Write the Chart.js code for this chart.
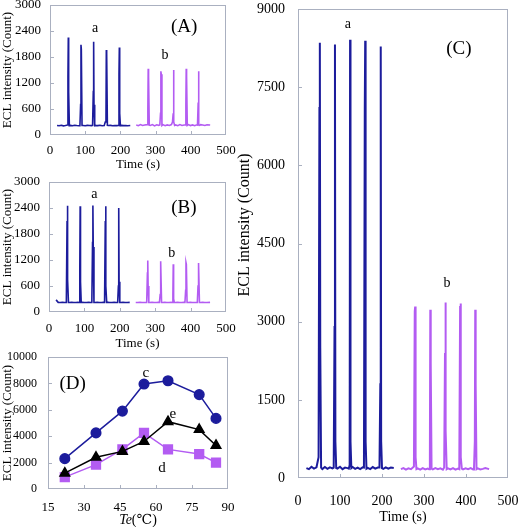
<!DOCTYPE html>
<html>
<head>
<meta charset="utf-8">
<script src="https://cdn.jsdelivr.net/npm/chart.js@4.4.1/dist/chart.umd.min.js"></script>
<style>
  html, body { margin: 0; padding: 0; background: #fff; }
  #wrap { position: relative; width: 520px; height: 527px; overflow: hidden; }
  canvas { position: absolute; }
</style>
</head>
<body>
<div id="wrap">
  <canvas id="chartA" width="240" height="172" style="left:0;top:0"></canvas>
  <canvas id="chartB" width="240" height="181" style="left:0;top:170px"></canvas>
  <canvas id="chartD" width="240" height="187" style="left:0;top:340px"></canvas>
  <canvas id="chartC" width="290" height="527" style="left:230px;top:0"></canvas>
</div>
<script>
// time axis (s) for trace a and trace b, shared by panels A, B, C
const timeA = [20, 26, 32, 38, 44, 49, 51, 52, 53, 55, 58, 64, 70, 76, 82, 85, 87, 88, 89, 91,
  94, 100, 106, 112, 118, 121, 123, 124, 125, 127, 130, 136, 142, 148, 154, 157, 159, 160, 161, 163,
  166, 172, 178, 184, 190, 194, 196, 197, 198, 200, 203, 209, 215, 221, 228];
const timeB = [245, 251, 257, 263, 269, 276, 278, 279, 280, 282, 285, 291, 297, 303, 309, 312, 314, 315, 316, 318,
  321, 327, 333, 339, 345, 348, 350, 351, 352, 354, 357, 363, 369, 375, 381, 384, 386, 387, 388, 390,
  393, 399, 405, 411, 417, 419, 421, 422, 423, 425, 428, 434, 440, 446, 455];

// panel A
const ecl1a = [220, 215, 225, 212, 220, 230, 1350, 2250, 1000, 215, 222, 214, 224, 218, 215, 215, 700, 2080, 1980, 220,
  220, 214, 222, 218, 216, 222, 1000, 2150, 700, 215, 220, 216, 224, 214, 220, 300, 320, 1960, 1880, 222,
  218, 222, 214, 220, 216, 220, 1400, 2020, 500, 215, 222, 216, 220, 214, 220];
const ecl1b = [230, 215, 240, 220, 232, 240, 600, 1530, 1350, 228, 220, 240, 210, 235, 222, 230, 500, 1470, 1400, 220,
  240, 215, 232, 220, 240, 300, 500, 1500, 300, 222, 232, 215, 240, 220, 230, 230, 700, 1530, 1350, 222,
  240, 218, 232, 214, 236, 230, 750, 1470, 230, 222, 240, 230, 220, 236, 230];

// panel B
const ecl2a = [280, 222, 220, 224, 220, 220, 2100, 2450, 750, 220, 220, 222, 220, 220, 222, 220, 1000, 2440, 700, 220,
  222, 220, 220, 222, 220, 220, 1600, 2460, 1500, 220, 220, 222, 220, 220, 222, 220, 2100, 2440, 600, 220,
  222, 220, 220, 222, 220, 220, 600, 2400, 700, 220, 220, 222, 220, 220, 222];
const ecl2b = [220, 220, 222, 220, 220, 220, 900, 1190, 600, 220, 220, 222, 220, 220, 222, 220, 400, 1170, 1150, 220,
  220, 222, 220, 220, 222, 220, 400, 1100, 300, 220, 220, 222, 220, 220, 222, 220, 500, 1140, 1100, 220,
  220, 222, 220, 220, 222, 220, 600, 1130, 1100, 220, 220, 222, 220, 220, 222];

// panel C
const ecl3a = [190, 170, 215, 180, 205, 400, 7100, 8350, 2500, 200, 170, 210, 175, 205, 185, 200, 2900, 8320, 700, 190,
  180, 215, 170, 200, 190, 180, 250, 8410, 700, 190, 210, 175, 200, 170, 205, 200, 7100, 8390, 700, 180,
  195, 170, 210, 180, 200, 200, 1800, 8280, 700, 190, 175, 205, 180, 200, 190];
const ecl3b = [170, 190, 160, 185, 170, 220, 3200, 3290, 400, 170, 185, 160, 190, 165, 180, 170, 400, 3230, 2200, 180,
  165, 190, 170, 185, 160, 200, 2400, 3370, 900, 170, 185, 165, 190, 160, 180, 170, 3300, 3350, 400, 180,
  165, 185, 170, 190, 165, 180, 700, 3230, 1800, 170, 185, 165, 175, 190, 170];

// panel D
const tempD = [22, 35, 46, 55, 65, 78, 85];
const eclC = [2300, 4250, 5900, 7950, 8200, 7150, 5350];
const eclD = [900, 1850, 3000, 4250, 3000, 2650, 2000];
const eclE = [1200, 2400, 2850, 3600, 5100, 4500, 3300];

const FONT = "'Liberation Serif', 'DejaVu Serif', serif";
const BLUE = '#1c1c9c';
const PURPLE = '#b35cf2';
const FRAME = '#aab0c0';

Chart.defaults.font.family = FONT;
Chart.defaults.color = '#000';

function pts(xs, ys) {
  return xs.map((x, i) => ({ x: x, y: ys[i] }));
}

function trace(xs, ys, color, w) {
  return { data: pts(xs, ys), borderColor: color, borderWidth: w, pointRadius: 0, fill: false, tension: 0 };
}

// box around plot area, small inward ticks, and free text
const frame = {
  id: 'frame',
  afterDraw(chart, args, opts) {
    const { ctx, chartArea: a, scales: { x, y } } = chart;
    ctx.save();
    ctx.strokeStyle = FRAME;
    ctx.lineWidth = 1;
    ctx.strokeRect(Math.round(a.left) + 0.5, Math.round(a.top) + 0.5,
      Math.round(a.right - a.left) - 1, Math.round(a.bottom - a.top) - 1);
    ctx.beginPath();
    x.ticks.forEach(t => {
      if (t.value <= x.min || t.value >= x.max) return;
      const px = Math.round(x.getPixelForValue(t.value)) + 0.5;
      ctx.moveTo(px, a.bottom); ctx.lineTo(px, a.bottom - 4);
    });
    y.ticks.forEach(t => {
      if (t.value <= y.min || t.value >= y.max) return;
      const py = Math.round(y.getPixelForValue(t.value)) + 0.5;
      ctx.moveTo(a.left, py); ctx.lineTo(a.left + 4, py);
    });
    ctx.stroke();

    ctx.fillStyle = '#000';
    ctx.textAlign = 'center';
    ctx.textBaseline = 'middle';
    (opts.notes || []).forEach(n => {
      ctx.font = n.size + 'px ' + FONT;
      ctx.fillText(n.text, x.getPixelForValue(n.x), y.getPixelForValue(n.y));
    });
    (opts.captions || []).forEach(c => {
      ctx.save();
      ctx.translate(c.px, c.py);
      if (c.rot) ctx.rotate(c.rot);
      let total = 0;
      c.parts.forEach(p => {
        ctx.font = (p.italic ? 'italic ' : '') + c.size + 'px ' + FONT;
        total += ctx.measureText(p.text).width;
      });
      let cx = -total / 2;
      ctx.textAlign = 'left';
      c.parts.forEach(p => {
        ctx.font = (p.italic ? 'italic ' : '') + c.size + 'px ' + FONT;
        ctx.fillText(p.text, cx, 0);
        cx += ctx.measureText(p.text).width;
      });
      ctx.restore();
    });
    ctx.restore();
  }
};

const plain = v => String(v);

function xAxis(min, max, step, o) {
  return {
    type: 'linear', min: min, max: max,
    grid: { display: false, drawTicks: false }, border: { display: false },
    ticks: { stepSize: step, padding: o.pad, font: { size: o.size }, autoSkip: false, maxRotation: 0, callback: plain },
    title: { display: !!o.title, text: o.title, font: { size: o.titleSize || o.size }, padding: { top: 0, bottom: o.titlePad || 0 } },
    afterFit: s => { s.height = o.h; s.paddingLeft = 0; s.paddingRight = 0; }
  };
}

function yAxis(min, max, step, o) {
  return {
    type: 'linear', min: min, max: max,
    grid: { display: false, drawTicks: false }, border: { display: false },
    ticks: { stepSize: step, padding: o.pad, font: { size: o.size }, callback: plain },
    title: { display: !!o.title, text: o.title, font: { size: o.titleSize || o.size }, padding: { top: o.titlePad || 0, bottom: 0 } },
    afterFit: s => { s.width = o.w; s.paddingTop = 0; s.paddingBottom = 0; }
  };
}

function options(pad, x, y, notes, captions) {
  return {
    responsive: false,
    animation: false,
    layout: { padding: pad },
    plugins: {
      legend: { display: false },
      tooltip: { enabled: false },
      frame: { notes: notes, captions: captions || [] }
    },
    scales: { x: x, y: y }
  };
}

// (A)
new Chart(document.getElementById('chartA'), {
  type: 'line',
  data: { datasets: [trace(timeA, ecl1a, BLUE, 1.6), trace(timeB, ecl1b, PURPLE, 1.6)] },
  options: options({ top: 5, right: 14, left: 0, bottom: 0 },
    xAxis(0, 500, 100, { h: 37, pad: 8, size: 13, title: 'Time (s)' }),
    yAxis(0, 3000, 600, { w: 50, pad: 9, size: 13, title: 'ECL intensity (Count)' }),
    [{ text: 'a', x: 128, y: 2470, size: 14 }, { text: '(A)', x: 381, y: 2490, size: 19 }, { text: 'b', x: 327, y: 1850, size: 14 }]),
  plugins: [frame]
});

// (B)
new Chart(document.getElementById('chartB'), {
  type: 'line',
  data: { datasets: [trace(timeA, ecl2a, BLUE, 1.6), trace(timeB, ecl2b, PURPLE, 1.6)] },
  options: options({ top: 12, right: 14, left: 0, bottom: 0 },
    xAxis(0, 500, 100, { h: 39, pad: 9, size: 13, title: 'Time (s)' }),
    yAxis(0, 3000, 600, { w: 49, pad: 9, size: 13, title: 'ECL intensity (Count)' }),
    [{ text: 'a', x: 128, y: 2720, size: 14 }, { text: '(B)', x: 381, y: 2400, size: 19 }, { text: 'b', x: 347, y: 1360, size: 14 }]),
  plugins: [frame]
});

// (C)
new Chart(document.getElementById('chartC'), {
  type: 'line',
  data: { datasets: [trace(timeA, ecl3a, BLUE, 2), trace(timeB, ecl3b, PURPLE, 2)] },
  options: options({ top: 9, right: 12, left: 0, bottom: 0 },
    xAxis(0, 500, 100, { h: 49, pad: 15, size: 14, title: 'Time (s)', titlePad: 1 }),
    yAxis(0, 9000, 1500, { w: 68, pad: 13, size: 14 }),
    [{ text: 'a', x: 119, y: 8700, size: 14 }, { text: '(C)', x: 383, y: 8230, size: 19 }, { text: 'b', x: 355, y: 3740, size: 14 }],
    [{ px: 15, py: 225, rot: -Math.PI / 2, size: 16, parts: [{ text: 'ECL intensity (Count)' }] }]),
  plugins: [frame]
});

// (D)
new Chart(document.getElementById('chartD'), {
  type: 'line',
  data: {
    datasets: [
      { data: pts(tempD, eclC), borderColor: BLUE, backgroundColor: BLUE, borderWidth: 1.5, pointStyle: 'circle', pointRadius: 4.8, tension: 0 },
      { data: pts(tempD, eclE), borderColor: '#000', backgroundColor: '#000', borderWidth: 1.5, pointStyle: 'triangle', pointRadius: 5.5, tension: 0 },
      { data: pts(tempD, eclD), borderColor: PURPLE, backgroundColor: PURPLE, borderWidth: 1.5, pointStyle: 'rect', pointRadius: 6.2, tension: 0 }
    ]
  },
  options: options({ top: 17, right: 12, left: 0, bottom: 0 },
    xAxis(15, 90, 15, { h: 38, pad: 11, size: 13 }),
    yAxis(0, 10000, 2000, { w: 48, pad: 11, size: 12, title: 'ECL intensity (Count)', titleSize: 13 }),
    [{ text: '(D)', x: 25.3, y: 7950, size: 19 }, { text: 'c', x: 55.8, y: 8800, size: 15 },
     { text: 'e', x: 67, y: 5680, size: 15 }, { text: 'd', x: 62.5, y: 1590, size: 15 }],
    [{ px: 138, py: 180, size: 14, parts: [{ text: 'Te', italic: true }, { text: '(℃)' }] }]),
  plugins: [frame]
});
</script>
</body>
</html>
